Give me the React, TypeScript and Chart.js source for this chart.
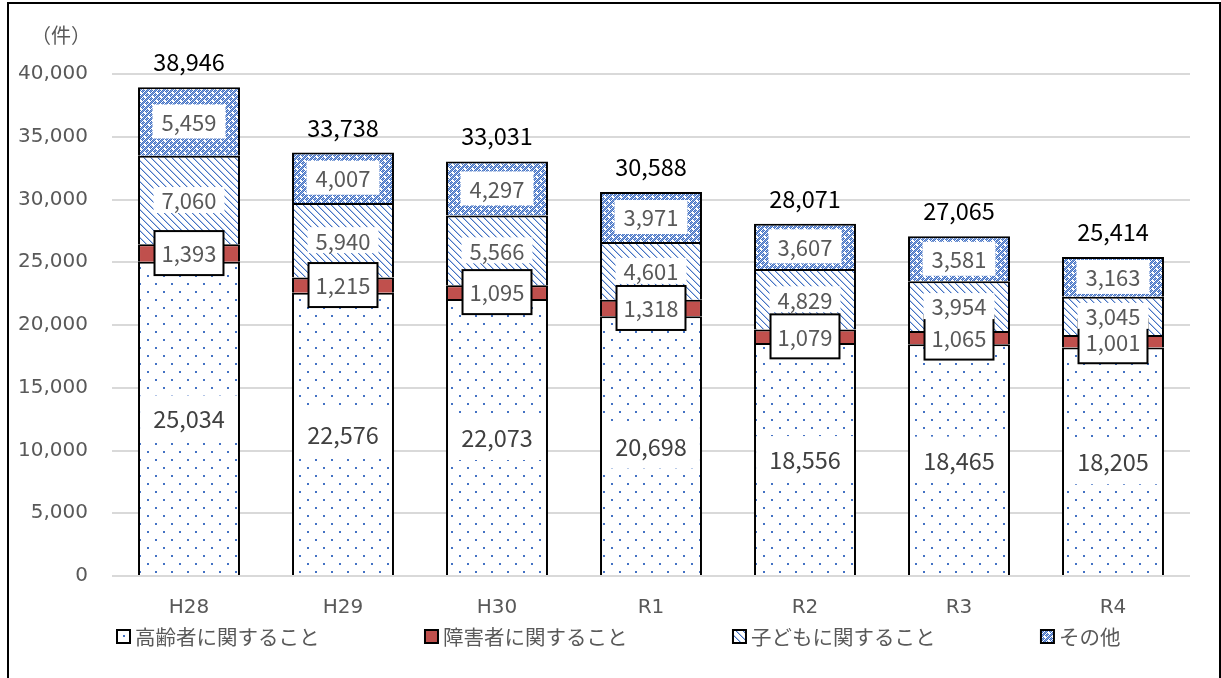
import React, { useEffect, useRef } from 'react';
import { Chart, registerables } from 'chart.js';

Chart.register(...registerables);

// 年度
const categories = ['H28', 'H29', 'H30', 'R1', 'R2', 'R3', 'R4'];
// 相談件数（件）
const elderly = [25034, 22576, 22073, 20698, 18556, 18465, 18205];
const disability = [1393, 1215, 1095, 1318, 1079, 1065, 1001];
const children = [7060, 5940, 5566, 4601, 4829, 3954, 3045];
const others = [5459, 4007, 4297, 3971, 3607, 3581, 3163];
const seriesNames = ['高齢者に関すること', '障害者に関すること', '子どもに関すること', 'その他'];
const yTicks = [0, 5000, 10000, 15000, 20000, 25000, 30000, 35000, 40000];
const unitLabel = '（件）';

// axis text uses wide Verdana-like digits; data labels and Japanese text use Noto Sans CJK
const AXIS_FONT = '"DejaVu Sans", "Noto Sans CJK JP", sans-serif';
const JP_FONT = '"Noto Sans CJK JP", "DejaVu Sans", sans-serif';
const BLUE = '#4472C4';
const RED = '#C0504D';
const GREY_TEXT = '#595959';

const fmt = (v: number) => v.toLocaleString('en-US');

function tile(size: number, draw: (g: CanvasRenderingContext2D) => void) {
  const c = document.createElement('canvas');
  c.width = size;
  c.height = size;
  const g = c.getContext('2d')!;
  draw(g);
  return c;
}

// white background with a sparse staggered dot grid
const dotTile = () =>
  tile(16, (g) => {
    g.fillStyle = '#fff';
    g.fillRect(0, 0, 16, 16);
    g.fillStyle = BLUE;
    g.fillRect(3, 3, 2, 2);
    g.fillRect(11, 11, 2, 2);
  });

// wide backslash hatch
const hatchTile = () =>
  tile(7, (g) => {
    g.fillStyle = '#fff';
    g.fillRect(0, 0, 7, 7);
    for (let i = 0; i < 7; i++) {
      g.fillStyle = BLUE;
      g.fillRect(i, i, 1, 1);
      g.fillStyle = '#b4c7e7';
      g.fillRect((i + 1) % 7, i, 1, 1);
    }
  });

// dense checker with small white specks
const checkTile = () =>
  tile(8, (g) => {
    g.fillStyle = '#fff';
    g.fillRect(0, 0, 8, 8);
    g.fillStyle = BLUE;
    for (let y = 0; y < 8; y++)
      for (let x = 0; x < 8; x++) if ((x + y) % 2 === 0) g.fillRect(x, y, 1, 1);
    g.fillStyle = '#7f9fd8';
    for (let y = 0; y < 8; y++)
      for (let x = 0; x < 8; x++) if ((x + y) % 2 === 1 && (x + y) % 4 === 1) g.fillRect(x, y, 1, 1);
    g.fillStyle = '#fff';
    g.fillRect(0, 0, 2, 2);
    g.fillRect(4, 4, 2, 2);
  });

type LabelStyle = { size: number; color: string; padX: number; h: number; border: boolean };
const labelStyles: LabelStyle[] = [
  { size: 23.5, color: '#404040', padX: 13, h: 46, border: false },
  { size: 22, color: GREY_TEXT, padX: 7, h: 44, border: true },
  { size: 22, color: GREY_TEXT, padX: 8, h: 26, border: false },
  { size: 22, color: GREY_TEXT, padX: 9, h: 34, border: false },
];

const labelPlugin = {
  id: 'segmentLabels',
  afterDatasetsDraw(chart: any) {
    const ctx: CanvasRenderingContext2D = chart.ctx;
    ctx.save();
    ctx.textAlign = 'center';
    ctx.textBaseline = 'middle';
    chart.data.datasets.forEach((ds: any, di: number) => {
      const meta = chart.getDatasetMeta(di);
      const st = labelStyles[di];
      meta.data.forEach((bar: any, i: number) => {
        const { x, y, base } = bar.getProps(['x', 'y', 'base'], true);
        const cy = (y + base) / 2;
        const text = fmt(ds.data[i]);
        ctx.font = `${st.size}px ${JP_FONT}`;
        const w = ctx.measureText(text).width + st.padX * 2;
        ctx.fillStyle = '#fff';
        ctx.fillRect(x - w / 2, cy - st.h / 2, w, st.h);
        if (st.border) {
          ctx.lineWidth = 2;
          ctx.strokeStyle = '#000';
          ctx.strokeRect(x - w / 2, cy - st.h / 2, w, st.h);
        }
        ctx.fillStyle = st.color;
        ctx.fillText(text, x, cy + 1);
      });
    });
    // totals above each stack
    const last = chart.getDatasetMeta(chart.data.datasets.length - 1);
    ctx.font = `23.5px ${JP_FONT}`;
    ctx.fillStyle = '#000';
    last.data.forEach((bar: any, i: number) => {
      const total = chart.data.datasets.reduce((s: number, d: any) => s + d.data[i], 0);
      const { x } = bar.getProps(['x'], true);
      const yTop = chart.scales.y.getPixelForValue(total);
      ctx.fillText(fmt(total), x, yTop - 25);
    });
    ctx.restore();
  },
  afterDraw(chart: any) {
    const ctx: CanvasRenderingContext2D = chart.ctx;
    const area = chart.chartArea;
    ctx.save();
    // unit caption
    ctx.font = `20px ${JP_FONT}`;
    ctx.fillStyle = GREY_TEXT;
    ctx.textAlign = 'center';
    ctx.textBaseline = 'middle';
    ctx.fillText(unitLabel, 61, 35);
    // legend row
    ctx.textAlign = 'left';
    ctx.font = `20.5px ${JP_FONT}`;
    const step = area.width * 0.2857;
    chart.data.datasets.forEach((ds: any, i: number) => {
      const bx = area.left + 5 + i * step;
      const by = 630;
      ctx.fillStyle = ds.backgroundColor;
      ctx.fillRect(bx, by, 13, 13);
      ctx.lineWidth = 2;
      ctx.strokeStyle = '#000';
      ctx.strokeRect(bx, by, 13, 13);
      ctx.fillStyle = GREY_TEXT;
      ctx.fillText(ds.label, bx + 18, by + 7);
    });
    ctx.restore();
  },
};

export default function App() {
  const ref = useRef<HTMLCanvasElement>(null);

  useEffect(() => {
    const canvas = ref.current!;
    const ctx = canvas.getContext('2d')!;
    const pat = (c: HTMLCanvasElement) => ctx.createPattern(c, 'repeat')!;
    const fills = [pat(dotTile()), RED, pat(hatchTile()), pat(checkTile())];
    const values = [elderly, disability, children, others];

    const chart = new Chart(canvas, {
      type: 'bar',
      data: {
        labels: categories,
        datasets: values.map((data, i) => ({
          label: seriesNames[i],
          data,
          backgroundColor: fills[i] as any,
          borderColor: '#000',
          borderWidth: 2,
          barPercentage: 0.662,
          categoryPercentage: 1,
        })),
      },
      options: {
        responsive: false,
        animation: false,
        layout: { padding: { top: 74, left: 0, right: 31, bottom: 0 } },
        plugins: { legend: { display: false }, tooltip: { enabled: false } },
        scales: {
          x: {
            stacked: true,
            grid: { display: false },
            border: { display: false },
            ticks: { color: GREY_TEXT, font: { family: AXIS_FONT, size: 20 }, padding: 12 },
            afterFit: (s: any) => {
              s.height = 102;
            },
          },
          y: {
            stacked: true,
            min: 0,
            max: 40000,
            afterBuildTicks: (s: any) => {
              s.ticks = yTicks.map((v) => ({ value: v }));
            },
            grid: { color: '#D9D9D9', lineWidth: 2, drawTicks: false },
            border: { display: false },
            ticks: {
              color: GREY_TEXT,
              font: { family: AXIS_FONT, size: 20 },
              padding: 24,
              callback: (v: any) => fmt(Number(v)),
            },
            afterFit: (s: any) => {
              s.width = 112;
            },
          },
        },
      },
      plugins: [labelPlugin],
    });
    return () => chart.destroy();
  }, []);

  return (
    <>
      <canvas
        ref={ref}
        width={1221}
        height={678}
        style={{ position: 'fixed', left: 0, top: 0, width: 1221, height: 678, display: 'block', background: '#fff' }}
      />
      <div
        style={{
          position: 'fixed',
          left: 7,
          top: 2,
          width: 1214,
          height: 720,
          border: '2px solid #000',
          boxSizing: 'border-box',
          pointerEvents: 'none',
        }}
      />
    </>
  );
}
